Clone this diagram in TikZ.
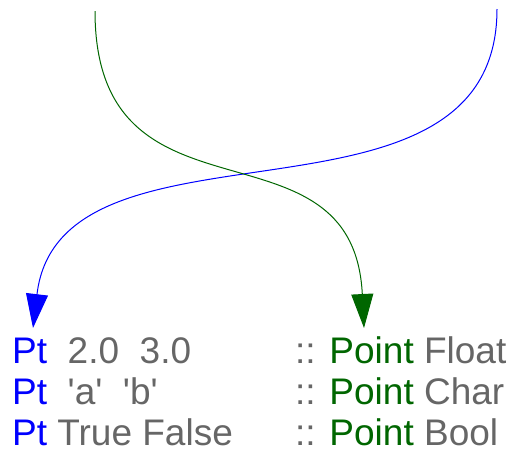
\documentclass[tikz,border=0pt]{standalone}
\usepackage{fontspec}
\newfontfamily\lsans{Liberation Sans}
\usetikzlibrary{arrows.meta}
\definecolor{ptblue}{RGB}{0,0,255}
\definecolor{ptgreen}{RGB}{0,102,0}
\definecolor{ptgray}{RGB}{102,102,102}
\begin{document}
\begin{tikzpicture}[x=1pt,y=-1pt,
  txt/.style={anchor=base west, inner sep=0pt, font=\lsans\fontsize{37}{40}\selectfont},
  bluelink/.style={draw=ptblue, line width=1pt, -{Triangle[length=34pt,width=22pt]}},
  greenlink/.style={draw=ptgreen, line width=1pt, -{Triangle[length=34pt,width=22pt]}}]
\useasboundingbox (0,0) rectangle (516,451);
% left column
\node[txt] (l1) at (12,363) {\color{ptblue}Pt\ \ \color{ptgray}2.0\ \ 3.0};
\node[txt] (l2) at (12,404) {\color{ptblue}Pt\ \ \color{ptgray}'a'\ \ 'b'};
\node[txt] (l3) at (12,445) {\color{ptblue}Pt \color{ptgray}True False};
% right column
\node[txt] (r1) at (295,363) {\color{ptgray}:: \color{ptgreen}Point \color{ptgray}Float};
\node[txt] (r2) at (295,404) {\color{ptgray}:: \color{ptgreen}Point \color{ptgray}Char};
\node[txt] (r3) at (295,445) {\color{ptgray}:: \color{ptgreen}Point \color{ptgray}Bool};
% connector ends
\coordinate (bstart) at (497,9);
\coordinate (gstart) at (95,11);
\coordinate (btip) at (33,328);
\coordinate (gtip) at (364,328);
\draw[bluelink] (bstart) .. controls (497,250) and (60,100) .. (btip);
\draw[greenlink] (gstart) .. controls (95,239) and (353,109) .. (gtip);
\end{tikzpicture}
\end{document}
